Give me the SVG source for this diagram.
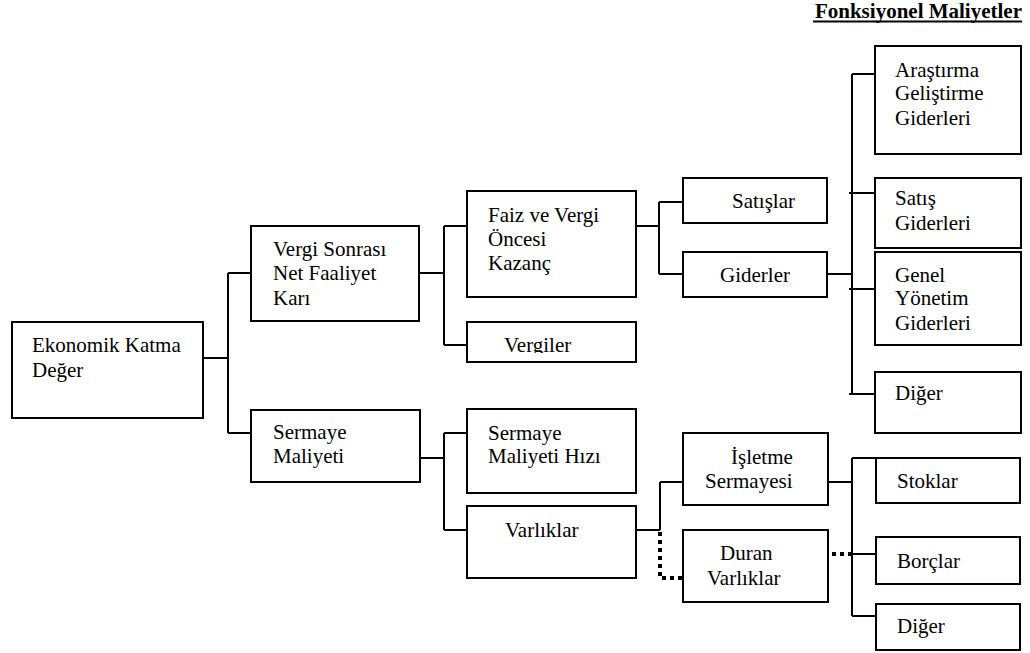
<svg xmlns="http://www.w3.org/2000/svg" width="1030" height="653" viewBox="0 0 1030 653">
  <style>
    .box { fill: #fff; stroke: #000; stroke-width: 2; }
    .lbl { font-family: 'Liberation Serif', 'DejaVu Serif', serif; font-size: 21px; fill: #000; }
    .wire { fill: none; stroke: #000; stroke-width: 2; }
    .dot { fill: none; stroke: #000; stroke-width: 4; stroke-dasharray: 4 4; }
    .title { font-family: 'Liberation Serif', 'DejaVu Serif', serif; font-size: 21px; font-weight: bold; fill: #000; }
  </style>
  <defs>
    <clipPath id="clip-vergiler">
      <rect x="467" y="322" width="169" height="31"/>
    </clipPath>
  </defs>
  <rect width="1030" height="653" fill="#fff"/>

  <g id="title">
    <text class="title" x="1022" y="18" text-anchor="end">Fonksiyonel Maliyetler</text>
    <line x1="813" y1="21.5" x2="1022" y2="21.5" stroke="#000" stroke-width="2"/>
  </g>

  <g id="connectors">
    <!-- root split -->
    <path class="wire" d="M203 358H228M228 273V433M228 273H251M228 433H251"/>
    <!-- after-tax operating profit split -->
    <path class="wire" d="M419 273H444M444 226V345M444 226H467M444 345H467"/>
    <!-- cost of capital split -->
    <path class="wire" d="M420 458H444M444 433V530M444 433H467M444 530H467"/>
    <!-- EBIT split -->
    <path class="wire" d="M636 226H659M659 202V274M659 202H683M659 274H683"/>
    <!-- assets split -->
    <path class="wire" d="M636 530H660M660 482V530M660 482H683"/>
    <path class="dot" d="M660 532V578H683"/>
    <!-- functional expenses -->
    <path class="wire" d="M827 274H852M852 74V394M852 74H875M849 193H875M849 289H875M849 394H875"/>
    <!-- working capital items -->
    <path class="wire" d="M828 482H852M852 458V616M852 458H876M852 554H876M852 616H876"/>
    <path class="dot" d="M832 554H852"/>
  </g>

  <g id="ekonomik-katma-deger">
    <rect class="box" x="12" y="322" width="191" height="96"/>
    <text class="lbl" x="32" y="352">Ekonomik Katma</text>
    <text class="lbl" x="32" y="377">Değer</text>
  </g>

  <g id="vergi-sonrasi">
    <rect class="box" x="251" y="226" width="168" height="95"/>
    <text class="lbl" x="273" y="256">Vergi Sonrası</text>
    <text class="lbl" x="273" y="280">Net Faaliyet</text>
    <text class="lbl" x="273" y="305">Karı</text>
  </g>

  <g id="sermaye-maliyeti">
    <rect class="box" x="251" y="410" width="169" height="72"/>
    <text class="lbl" x="273" y="439">Sermaye</text>
    <text class="lbl" x="273" y="463">Maliyeti</text>
  </g>

  <g id="faiz-vergi-oncesi">
    <rect class="box" x="467" y="191" width="169" height="106"/>
    <text class="lbl" x="488" y="222">Faiz ve Vergi</text>
    <text class="lbl" x="488" y="246">Öncesi</text>
    <text class="lbl" x="488" y="270">Kazanç</text>
  </g>

  <g id="vergiler">
    <rect class="box" x="467" y="322" width="169" height="40"/>
    <text class="lbl" x="504" y="352" clip-path="url(#clip-vergiler)">Vergiler</text>
  </g>

  <g id="sermaye-maliyeti-hizi">
    <rect class="box" x="467" y="409" width="169" height="84"/>
    <text class="lbl" x="488" y="440">Sermaye</text>
    <text class="lbl" x="488" y="463">Maliyeti Hızı</text>
  </g>

  <g id="varliklar">
    <rect class="box" x="467" y="506" width="169" height="72"/>
    <text class="lbl" x="505" y="537">Varlıklar</text>
  </g>

  <g id="satislar">
    <rect class="box" x="683" y="178" width="144" height="45"/>
    <text class="lbl" x="732" y="208">Satışlar</text>
  </g>

  <g id="giderler">
    <rect class="box" x="683" y="252" width="144" height="45"/>
    <text class="lbl" x="720" y="282">Giderler</text>
  </g>

  <g id="isletme-sermayesi">
    <rect class="box" x="683" y="433" width="145" height="72"/>
    <text class="lbl" x="731" y="464">İşletme</text>
    <text class="lbl" x="705" y="488">Sermayesi</text>
  </g>

  <g id="duran-varliklar">
    <rect class="box" x="683" y="530" width="145" height="72"/>
    <text class="lbl" x="720" y="560">Duran</text>
    <text class="lbl" x="707" y="585">Varlıklar</text>
  </g>

  <g id="arastirma-gelistirme">
    <rect class="box" x="875" y="46" width="146" height="108"/>
    <text class="lbl" x="895" y="77">Araştırma</text>
    <text class="lbl" x="895" y="100">Geliştirme</text>
    <text class="lbl" x="895" y="125">Giderleri</text>
  </g>

  <g id="satis-giderleri">
    <rect class="box" x="875" y="178" width="146" height="70"/>
    <text class="lbl" x="895" y="205">Satış</text>
    <text class="lbl" x="895" y="230">Giderleri</text>
  </g>

  <g id="genel-yonetim">
    <rect class="box" x="875" y="252" width="146" height="93"/>
    <text class="lbl" x="895" y="282">Genel</text>
    <text class="lbl" x="895" y="305">Yönetim</text>
    <text class="lbl" x="895" y="330">Giderleri</text>
  </g>

  <g id="diger-gider">
    <rect class="box" x="875" y="372" width="146" height="61"/>
    <text class="lbl" x="895" y="400">Diğer</text>
  </g>

  <g id="stoklar">
    <rect class="box" x="876" y="458" width="144" height="45"/>
    <text class="lbl" x="897" y="488">Stoklar</text>
  </g>

  <g id="borclar">
    <rect class="box" x="876" y="537" width="144" height="47"/>
    <text class="lbl" x="897" y="568">Borçlar</text>
  </g>

  <g id="diger-varlik">
    <rect class="box" x="876" y="604" width="144" height="46"/>
    <text class="lbl" x="897" y="633">Diğer</text>
  </g>
</svg>
